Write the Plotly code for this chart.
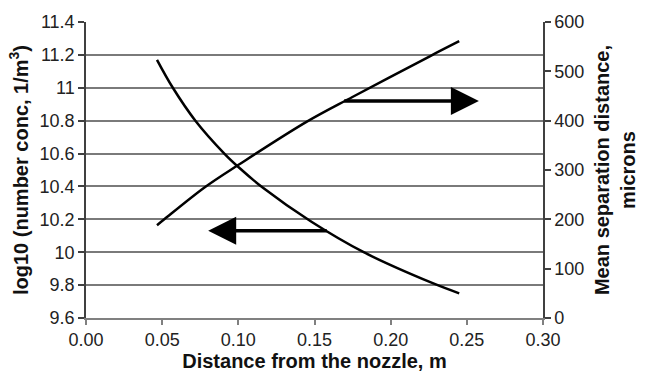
import plotly.graph_objects as go

# Decreasing curve: log10 number concentration (left axis)
conc_x = [0.0466, 0.0570, 0.0718, 0.0908, 0.1004, 0.1164, 0.1480, 0.1823, 0.2280, 0.2450]
conc_y = [11.17, 11.00, 10.80, 10.60, 10.515, 10.39, 10.185, 10.00, 9.81, 9.75]

# Increasing curve: mean separation distance, microns (right axis)
sep_x = [0.0466, 0.0514, 0.0780, 0.1004, 0.1450, 0.1749, 0.2260, 0.2450]
sep_y = [188, 200, 265, 311, 398, 448, 531, 561]

# Arrows (left-axis coordinates): [x_start, x_end, y]
arrow_right = [0.1685, 0.2579, 10.92]
arrow_left = [0.1590, 0.0802, 10.131]

left_ticks = [9.6, 9.8, 10.0, 10.2, 10.4, 10.6, 10.8, 11.0, 11.2, 11.4]
left_text = ["9.6", "9.8", "10", "10.2", "10.4", "10.6", "10.8", "11", "11.2", "11.4"]
right_ticks = [0, 100, 200, 300, 400, 500, 600]
x_ticks = [0.0, 0.05, 0.10, 0.15, 0.20, 0.25, 0.30]
x_text = ["0.00", "0.05", "0.10", "0.15", "0.20", "0.25", "0.30"]

FONT = "Liberation Sans, Arial, sans-serif"

fig = go.Figure()
fig.add_trace(go.Scatter(x=conc_x, y=conc_y, mode="lines", line=dict(color="black", width=2.5, shape="spline"),
                         yaxis="y", showlegend=False))
fig.add_trace(go.Scatter(x=sep_x, y=sep_y, mode="lines", line=dict(color="black", width=2.5, shape="spline"),
                         yaxis="y2", showlegend=False))

for xs, xe, yv in [arrow_right, arrow_left]:
    fig.add_annotation(x=xe, y=yv, ax=xs, ay=yv, xref="x", yref="y", axref="x", ayref="y",
                       showarrow=True, arrowhead=2, arrowsize=1.6, arrowwidth=3.5, arrowcolor="black", text="")

fig.update_layout(
    width=648, height=380,
    margin=dict(l=86, r=92, t=15, b=59),
    paper_bgcolor="white", plot_bgcolor="white",
    font=dict(family=FONT, size=18, color="#222"),
    xaxis=dict(range=[0, 0.30], tickvals=x_ticks, ticktext=x_text, showgrid=False, zeroline=False,
               showline=True, linecolor="#808080", linewidth=1.5, ticks="outside", ticklen=5,
               tickcolor="#808080", tickwidth=1.5,
               title=dict(text="Distance from the nozzle, m", font=dict(size=20, weight="bold", color="#111"),
                          standoff=4)),
    yaxis=dict(range=[9.6, 11.4], tickvals=left_ticks, ticktext=left_text, showgrid=True,
               gridcolor="#7a7a7a", gridwidth=1.5, zeroline=False, showline=True, linecolor="#404040",
               linewidth=1.5, ticks="outside", ticklen=6, tickcolor="#404040", tickwidth=1.5,
               title=dict(text="log10 (number conc, 1/m<sup>3</sup>)", font=dict(size=20, weight="bold", color="#111"),
                          standoff=6)),
    yaxis2=dict(range=[0, 600], tickvals=right_ticks, overlaying="y", side="right", showgrid=False,
                zeroline=False, showline=True, linecolor="#404040", linewidth=1.5, ticks="outside",
                ticklen=6, tickcolor="#404040", tickwidth=1.5,
                title=dict(text="Mean separation distance,<br>microns", font=dict(size=20, weight="bold", color="#111"),
                           standoff=12)),
)

fig.write_html("out.html")
